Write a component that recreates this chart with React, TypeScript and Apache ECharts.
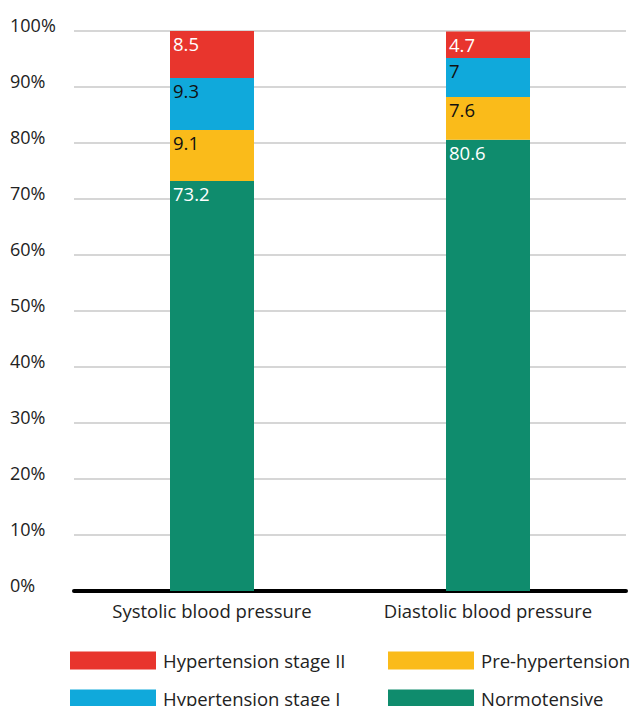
import React, { useEffect, useRef } from "react";
import * as echarts from "echarts";

const categories = ["Systolic blood pressure", "Diastolic blood pressure"];
const seriesNames = ["Normotensive", "Pre-hypertension", "Hypertension stage I", "Hypertension stage II"];
const normotensive = [73.2, 80.6];
const preHypertension = [9.1, 7.6];
const stageI = [9.3, 7];
const stageII = [8.5, 4.7];
const seriesValues = [normotensive, preHypertension, stageI, stageII];
const colors = ["#0F8C6D", "#FABB1A", "#10A9DB", "#E8352D"];
const labelColors = ["#ffffff", "#111111", "#111111", "#ffffff"];

const FONT = "'Open Sans', 'Noto Sans', sans-serif";

const legendBase = {
  orient: "vertical",
  top: 651,
  height: 80,
  padding: 0,
  itemWidth: 86,
  itemHeight: 18,
  itemGap: 19,
  icon: "rect",
  textStyle: { fontSize: 18.5, color: "#222", fontFamily: FONT, padding: [0, 0, 0, 2] },
};

export default function App() {
  const ref = useRef<HTMLDivElement>(null);
  useEffect(() => {
    document.body.style.margin = "0";
    const chart = echarts.init(ref.current!, null, { renderer: "svg" });
    chart.setOption({
      animation: false,
      textStyle: { fontFamily: FONT },
      grid: { left: 74, right: 6, top: 31, bottom: 115 },
      legend: [
        { ...legendBase, left: 70, data: ["Hypertension stage II", "Hypertension stage I"] },
        { ...legendBase, left: 388, data: ["Pre-hypertension", "Normotensive"] },
      ],
      xAxis: {
        type: "category",
        data: categories,
        axisTick: { show: false },
        axisLine: { lineStyle: { color: "#000", width: 4 } },
        axisLabel: { fontSize: 18.5, color: "#222", margin: 10, fontFamily: FONT },
      },
      yAxis: {
        type: "value",
        min: 0,
        max: 100,
        interval: 10,
        axisLine: { show: false },
        axisTick: { show: false },
        splitLine: { lineStyle: { color: "#c8c8c8", width: 1.5 } },
        axisLabel: {
          formatter: "{value}%",
          fontSize: 18,
          color: "#222",
          align: "left",
          margin: 64,
          verticalAlign: "bottom",
          lineHeight: 12,
          fontFamily: FONT,
        },
      },
      series: seriesNames.map((name, i) => ({
        name,
        type: "bar",
        stack: "total",
        barWidth: 84,
        data: seriesValues[i],
        itemStyle: { color: colors[i] },
        label: {
          show: true,
          position: "insideTopLeft",
          distance: 3,
          fontSize: 18.5,
          color: labelColors[i],
          fontFamily: FONT,
        },
      })),
    });
    return () => chart.dispose();
  }, []);
  return <div ref={ref} style={{ width: 632, height: 706 }} />;
}
